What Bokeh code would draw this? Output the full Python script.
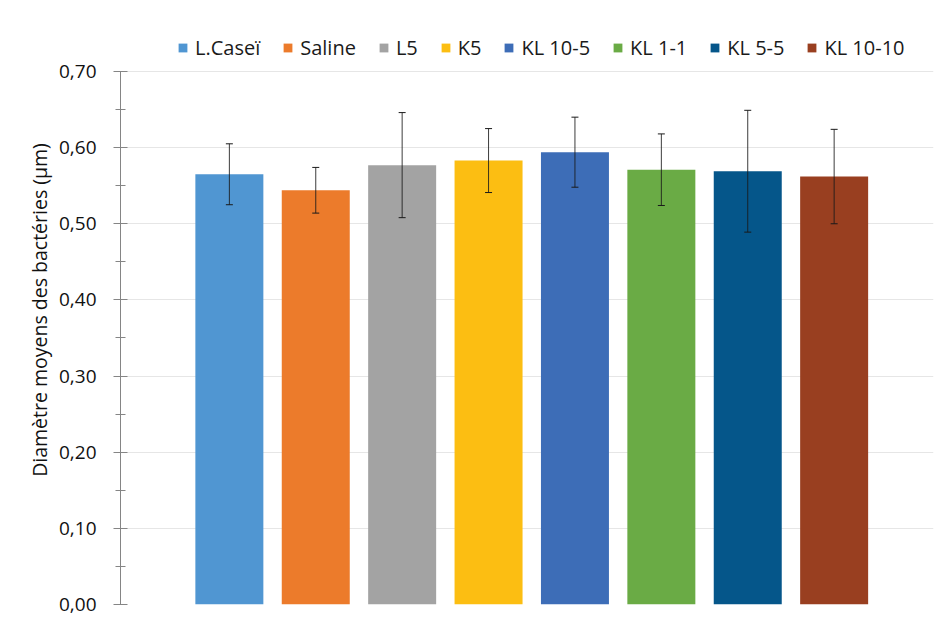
from bokeh.plotting import figure
from bokeh.models import (ColumnDataSource, Range1d, SingleIntervalTicker, CustomJSTickFormatter,
                          Whisker, TeeHead, Legend, LegendItem)
from bokeh.embed import file_html
from bokeh.resources import INLINE

# Data
groups = ["L.Caseï", "Saline", "L5", "K5", "KL 10-5", "KL 1-1", "KL 5-5", "KL 10-10"]
means = [0.565, 0.544, 0.577, 0.583, 0.594, 0.571, 0.569, 0.562]
errors = [0.040, 0.030, 0.069, 0.042, 0.046, 0.047, 0.080, 0.062]
colors = ["#5096D2", "#EC7B2B", "#A3A3A3", "#FCBE12", "#3D6DB7", "#6AAB45", "#05568A", "#993F20"]

FONT = "Open Sans"

p = figure(width=935, height=620, output_backend="svg", toolbar_location=None,
           x_range=Range1d(-1.26, 8.15), y_range=Range1d(0, 0.7735),
           min_border_left=120, min_border_right=2, min_border_top=15, min_border_bottom=16)

xs = list(range(len(groups)))
items = []
for i, (g, m, c) in enumerate(zip(groups, means, colors)):
    src = ColumnDataSource(dict(x=[xs[i]], top=[m]))
    r = p.vbar(x="x", top="top", width=0.787, bottom=0, source=src,
               fill_color=c, line_color=None)
    items.append(LegendItem(label=g, renderers=[r]))

err_src = ColumnDataSource(dict(
    x=xs,
    upper=[m + e for m, e in zip(means, errors)],
    lower=[m - e for m, e in zip(means, errors)],
))
w = Whisker(source=err_src, base="x", upper="upper", lower="lower",
            line_color="#1a1a1a", line_width=1, line_alpha=0.85,
            upper_head=TeeHead(size=7, line_color="#1a1a1a", line_width=1),
            lower_head=TeeHead(size=7, line_color="#1a1a1a", line_width=1),
            level="overlay")
p.add_layout(w)

legend = Legend(items=items, orientation="horizontal", location=(57, 543),
                padding=0, margin=0, spacing=22, glyph_width=11, glyph_height=11,
                label_standoff=7, label_height=24,
                label_text_font=FONT, label_text_font_size="20px", label_text_color="#1a1a1a",
                border_line_color=None, background_fill_alpha=0)
p.add_layout(legend, "center")

# Axes
p.xaxis.visible = False
p.xgrid.visible = False
p.outline_line_color = None

yax = p.yaxis[0]
yax.ticker = SingleIntervalTicker(interval=0.1, num_minor_ticks=2)
yax.bounds = (0, 0.7001)
yax.formatter = CustomJSTickFormatter(code="return tick.toFixed(2).replace('.', ',');")
yax.axis_line_color = "#858585"
yax.major_tick_line_color = "#858585"
yax.minor_tick_line_color = "#858585"
yax.major_tick_in = 7
yax.major_tick_out = 7
yax.minor_tick_in = 5
yax.minor_tick_out = 5
yax.major_label_standoff = 17
yax.major_label_text_font = FONT
yax.major_label_text_font_size = "19px"
yax.major_label_text_color = "#111111"
yax.axis_label = "Diamètre moyens des bactéries (µm)"
yax.axis_label_text_font = FONT
yax.axis_label_text_font_size = "19.5px"
yax.axis_label_text_font_style = "normal"
yax.axis_label_text_color = "#111111"
yax.axis_label_standoff = 3

p.ygrid.grid_line_color = "#e6e6e6"
p.ygrid.grid_line_width = 1

open("out.html", "w").write(file_html(p, INLINE))
